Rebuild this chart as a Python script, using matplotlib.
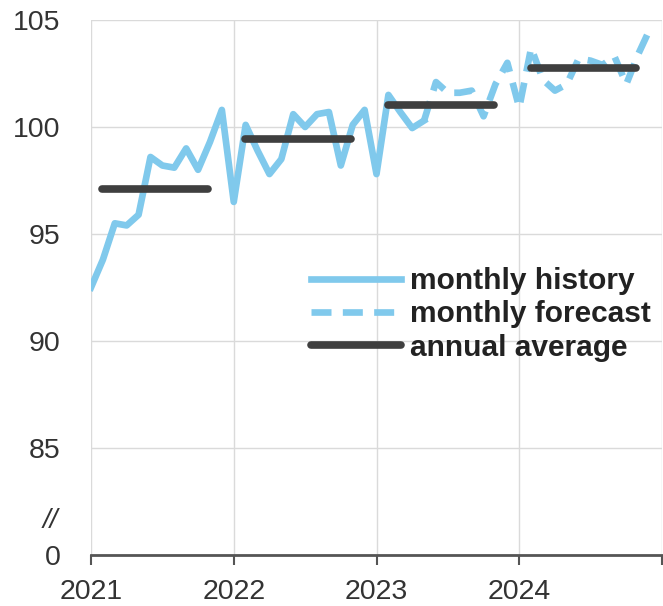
import numpy as np
import matplotlib.pyplot as plt

plt.rcParams['font.family'] = ['Liberation Sans', 'DejaVu Sans']

# monthly values, Jan 2021 .. Dec 2024
hist_2021 = [92.5, 93.8, 95.5, 95.4, 95.9, 98.6, 98.2, 98.1, 99.0, 98.0, 99.3, 100.8]
hist_2022 = [96.5, 100.1, 98.9, 97.8, 98.5, 100.6, 100.0, 100.6, 100.7, 98.2, 100.1, 100.8]
hist_2023 = [97.8, 101.5, 100.7, 99.95, 100.3]            # Jan..May 2023
fcst_2023 = [100.3, 102.1, 101.6, 101.6, 101.7, 100.5, 102.0, 103.0]   # May..Dec 2023
fcst_2024 = [100.9, 103.7, 102.2, 101.7, 102.0, 103.2, 103.1, 102.9, 103.3, 102.0, 103.4, 104.6]

years = [2021, 2022, 2023, 2024]
annual_avg = [97.1, 99.45, 101.05, 102.75]

hist = hist_2021 + hist_2022 + hist_2023
fcst = fcst_2023 + fcst_2024
hist_t = [2021 + i / 12 for i in range(len(hist))]
fcst_t = [2021 + (len(hist) - 1 + i) / 12 for i in range(len(fcst))]

blue = '#80c9ec'
dark = '#3f3f3f'

fig = plt.figure(figsize=(6.63, 6.06), dpi=100)
ax = fig.add_axes([91 / 663, 1 - 555 / 606, 571 / 663, 535 / 606])

ax.plot(hist_t, hist, color=blue, lw=4.8, label='monthly history')
ax.plot(fcst_t, fcst, color=blue, lw=4.8, dashes=(3.0, 1.7), label='monthly forecast')
for i, (yr, v) in enumerate(zip(years, annual_avg)):
    ax.plot([yr + 0.08, yr + 0.82], [v, v], color=dark, lw=5.5, solid_capstyle='round',
            label='annual average' if i == 0 else None)

ax.set_xlim(2021, 2025)
ax.set_ylim(80, 105)
ax.set_xticks([2021, 2022, 2023, 2024, 2025])
ax.set_xticklabels(['2021', '2022', '2023', '2024', ''])
ax.set_yticks([80, 85, 90, 95, 100, 105])
ax.set_yticklabels(['0', '85', '90', '95', '100', '105'])

ax.grid(True, color='#dadada', lw=1)
ax.set_axisbelow(True)
for s in ['top', 'right', 'left']:
    ax.spines[s].set_visible(False)
ax.spines['bottom'].set_color('#555555')
ax.spines['bottom'].set_linewidth(2)
ax.spines['bottom'].set_zorder(5)

ax.tick_params(axis='y', length=0, pad=22, labelsize=20.5, labelcolor='#333333')
ax.tick_params(axis='x', length=7, width=1.5, color='#555555', pad=10,
               labelsize=20.5, labelcolor='#333333')

# axis break mark
ax.text(-0.072, 81.6, '//', transform=ax.get_yaxis_transform(), ha='center', va='center',
        fontsize=20, style='italic', color='#333333')

leg = ax.legend(loc='upper left', bbox_to_anchor=(311 / 663, 1 - 267 / 606),
                bbox_transform=fig.transFigure, frameon=False, fontsize=21.5,
                handlelength=3.0, handletextpad=0.3, labelspacing=0.18,
                borderpad=0, borderaxespad=0)
for t in leg.get_texts():
    t.set_fontweight('bold')
    t.set_color('#222222')

fig.savefig('out.png', dpi=100)
